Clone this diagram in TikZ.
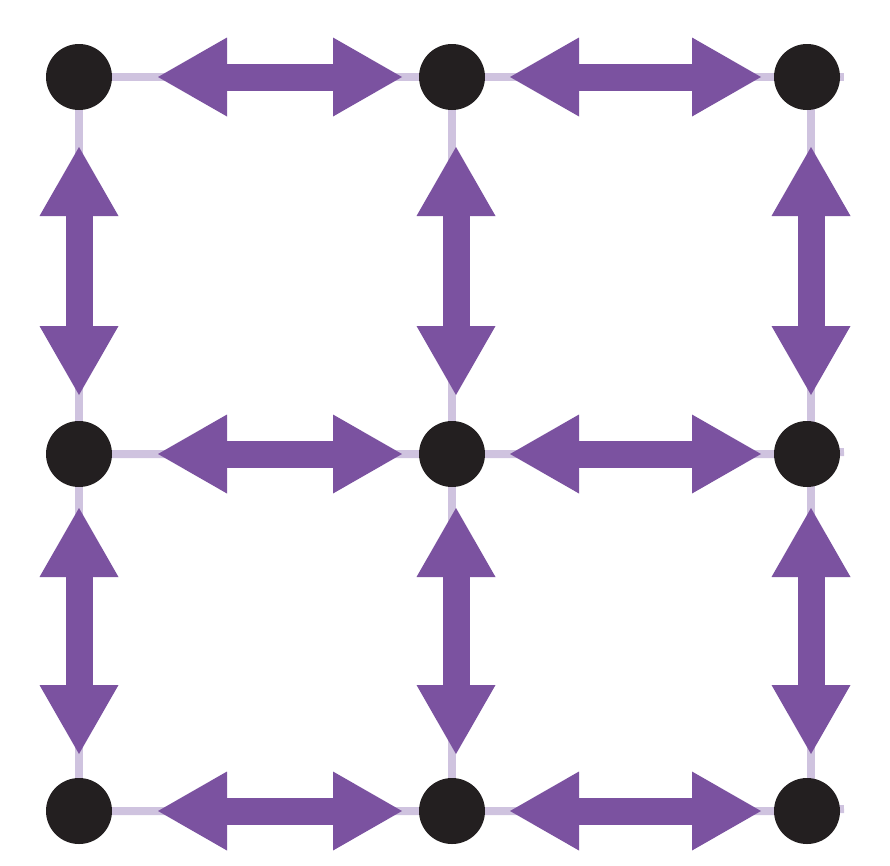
\documentclass[tikz,border=0pt]{standalone}
\usetikzlibrary{arrows.meta, backgrounds}
\definecolor{cpurple}{HTML}{7B52A0}
\definecolor{clilac}{HTML}{CFC3DF}
\definecolor{cdot}{HTML}{231F20}
\tikzset{
  every picture/.style={x=1pt, y=-1pt},
  site/.style={circle, fill=cdot, minimum size=66pt, inner sep=0pt, outer sep=0pt},
  link/.style={draw=clilac, line width=8pt},
  hop/.style 2 args={{Triangle[length=69pt, width=79pt, line width=0pt]}-{Triangle[length=69pt, width=79pt, line width=0pt]},
    draw=cpurple, line width=27pt, shorten <=#1pt, shorten >=#2pt},
}
\begin{document}
\begin{tikzpicture}
  \useasboundingbox (0,0) rectangle (890,865);
  % lattice sites
  \node[site] (tl) at (79,77) {};
  \node[site] (tm) at (452,77) {};
  \node[site] (tr) at (807,77) {};
  \node[site] (ml) at (79,454) {};
  \node[site] (mm) at (452,454) {};
  \node[site] (mr) at (807,454) {};
  \node[site] (bl) at (79,811) {};
  \node[site] (bm) at (452,811) {};
  \node[site] (br) at (807,811) {};
  \coordinate (te) at (844,77);
  \coordinate (me) at (844,452);
  \coordinate (be) at (844,809);
  % faint bonds behind the sites
  \begin{scope}[on background layer]
    \draw[link] (tl.center) -- (tm.center) -- (tr.center) -- (te);
    \draw[link] (ml.center) -- (mm.center) -- (mr.center) -- (me);
    \draw[link] (bl.center) -- (bm.center) -- (br.center) -- (be);
    \draw[link] (tl.center) -- (ml.center) -- (bl.center);
    \draw[link] (tm.center) -- (mm.center) -- (bm.center);
    \draw[link, transform canvas={xshift=4pt}] (tr.center) -- (mr.center) -- (br.center);
  \end{scope}
  % hopping arrows
  \draw[hop={46}{17}] (tl) -- (tm);
  \draw[hop={25}{13}] (tm) -- (tr);
  \draw[hop={46}{17}] (ml) -- (mm);
  \draw[hop={25}{13}] (mm) -- (mr);
  \draw[hop={46}{17}] (bl) -- (bm);
  \draw[hop={25}{13}] (bm) -- (br);
  \draw[hop={37}{26}] (tl) -- (ml);
  \draw[hop={21}{24}] (ml) -- (bl);
  \draw[hop={37}{26}, transform canvas={xshift=4pt}] (tm) -- (mm);
  \draw[hop={21}{24}, transform canvas={xshift=4pt}] (mm) -- (bm);
  \draw[hop={37}{26}, transform canvas={xshift=4pt}] (tr) -- (mr);
  \draw[hop={21}{24}, transform canvas={xshift=4pt}] (mr) -- (br);
\end{tikzpicture}
\end{document}
